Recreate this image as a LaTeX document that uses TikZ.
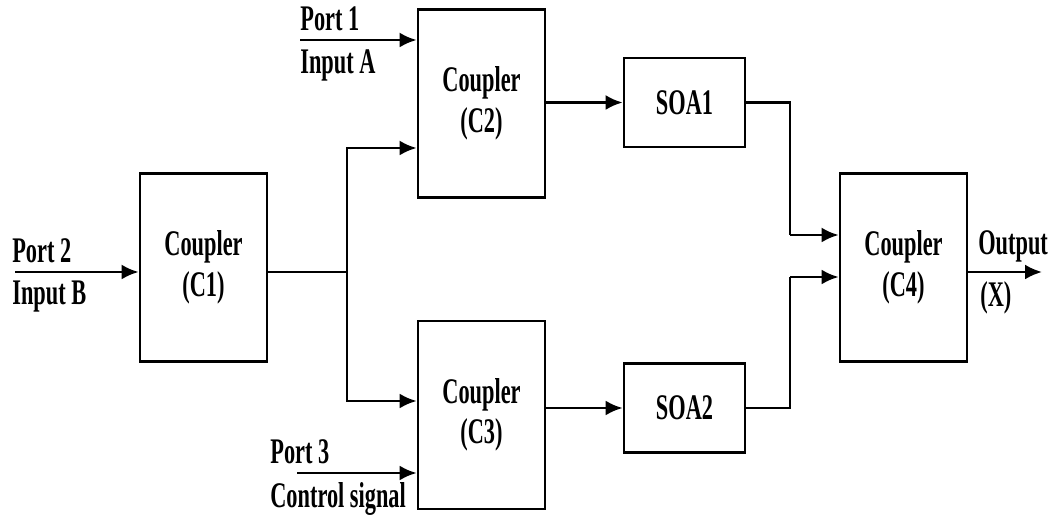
\documentclass[tikz,border=0pt]{standalone}
\usepackage{fontspec}
\setmainfont{Liberation Serif}[FakeStretch=0.62]
\usetikzlibrary{arrows.meta}

\begin{document}
\begin{tikzpicture}[
        block/.style={
            rectangle,
            draw,
            line width=1.6pt,
            minimum width=2.54cm,
            minimum height=3.76cm,
            align=center,
            font=\fontsize{20.5}{23}\selectfont\bfseries
        },
        amp/.style={
            rectangle,
            draw,
            line width=1.6pt,
            minimum width=2.42cm,
            minimum height=1.78cm,
            font=\fontsize{20.5}{23}\selectfont\bfseries
        },
        signal/.style={
            line width=1.5pt,
            -{Latex[length=0.34cm,width=0.3cm]}
        },
        wire/.style={
            line width=1.5pt
        },
        labelText/.style={
            inner sep=0pt,
            align=left,
            font=\fontsize{20.5}{23}\selectfont\bfseries
        }
    ]

        \useasboundingbox (0,0) rectangle (21.12,10.3);

        \node[block] (C1) at (4.07,4.95) {Coupler\\(C1)};
        \node[block] (C2) at (9.63,8.23) {Coupler\\(C2)};
        \node[block] (C3) at (9.63,2.0) {Coupler\\(C3)};
        \node[amp] (S1) at (13.69,8.25) {SOA1};
        \node[amp] (S2) at (13.69,2.14) {SOA2};
        \node[block] (C4) at (18.07,4.95) {Coupler\\(C4)};

        % input ports
        \coordinate (p2) at (0.3,4.86);
        \coordinate (p1) at (6.0,9.5);
        \coordinate (p3) at (5.94,0.84);
        \node[labelText, anchor=south west] (p2a) at (0.24,5.04) {Port 2};
        \node[labelText, anchor=north west] (p2b) at (0.24,4.68) {Input B};
        \node[labelText, anchor=south west] (p1a) at (6.0,9.68) {Port 1};
        \node[labelText, anchor=north west] (p1b) at (6.0,9.32) {Input A};
        \node[labelText, anchor=south west] (p3a) at (5.4,1.02) {Port 3};
        \node[labelText, anchor=north west] (p3b) at (5.4,0.66) {Control signal};

        \draw[signal] (p2) -- (p2 -| C1.west);
        \draw[signal] (p1) -- (p1 -| C2.west);
        \draw[signal] (p3) -- (p3 -| C3.west);

        % splitting C1 to C2 and C3
        \coordinate (split) at (6.94,4.86);
        \coordinate (up) at (6.94,7.34);
        \coordinate (down) at (6.94,2.28);
        \draw[wire] (p2 -| C1.east) -- (split);
        \draw[signal] (down) -- (up) -- (up -| C2.west);
        \draw[signal] (up) -- (down) -- (down -| C3.west);

        \draw[signal] (C2.east |- S1.west) -- (S1.west);
        \draw[signal] (C3.east |- S2.west) -- (S2.west);

        % merging into C4
        \coordinate (mtop) at (15.8,5.6);
        \coordinate (mbot) at (15.8,4.76);
        \draw[wire] (S1.east) -- (S1.east -| mtop) -- (mtop);
        \draw[signal] (mtop) -- (mtop -| C4.west);
        \draw[wire] (S2.east) -- (S2.east -| mbot) -- (mbot);
        \draw[signal] (mbot) -- (mbot -| C4.west);

        % output
        \coordinate (out) at (20.84,4.86);
        \draw[signal] (out -| C4.east) -- (out);
        \node[labelText, anchor=south west] (o1) at (19.56,5.04) {Output};
        \node[labelText, anchor=north west] (o2) at (19.6,4.68) {(X)};

    \end{tikzpicture}
\end{document}
